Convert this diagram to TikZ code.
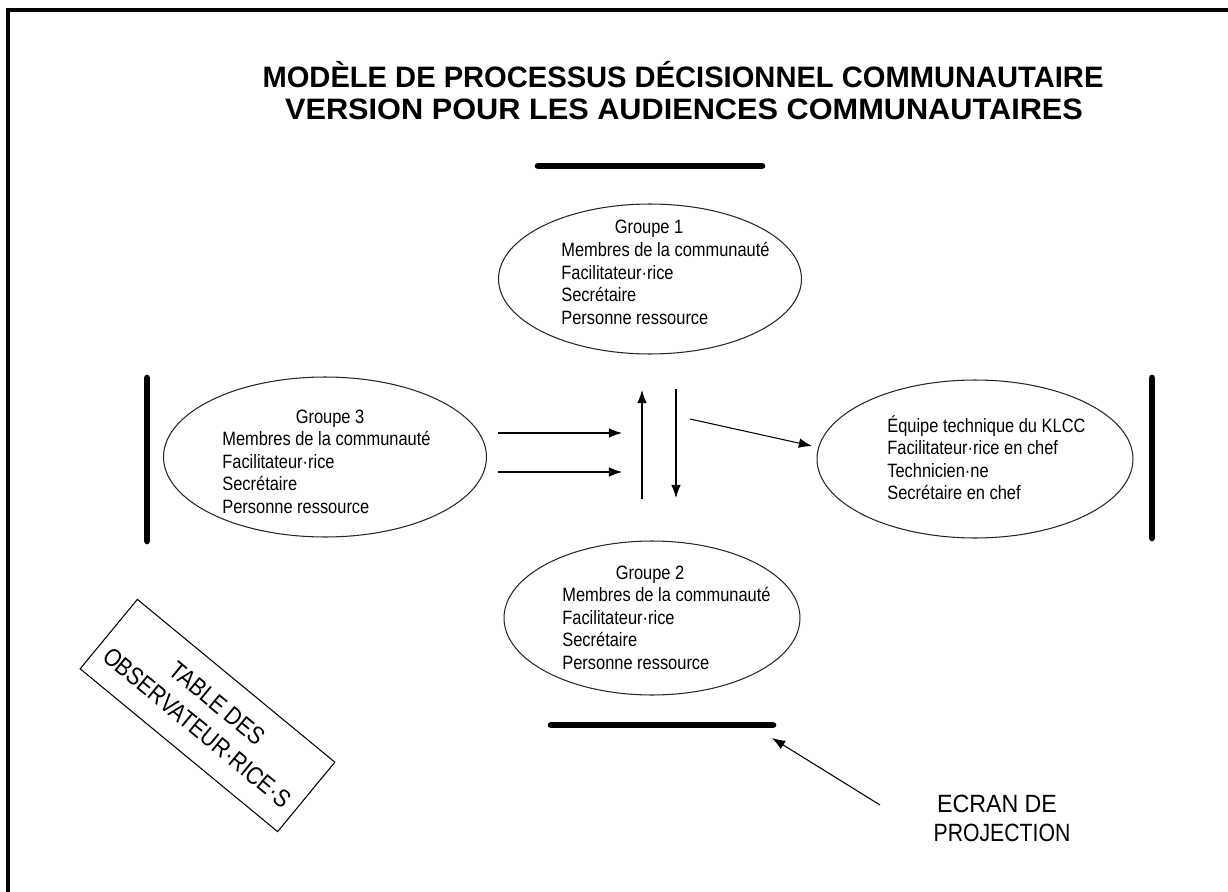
\documentclass[tikz,border=0pt]{standalone}
\usepackage{fontspec}
\setmainfont{Liberation Sans}
\newfontfamily\narrowfont{Liberation Sans}[FakeStretch=0.85]
\usetikzlibrary{arrows.meta}
\usetikzlibrary{shapes.geometric}

\begin{document}
\begin{tikzpicture}[x=0.02cm, y=-0.02cm, >={Latex[length=7.5pt, width=5.5pt]},
    ovale/.style={draw=black!85, ellipse, line width=0.6pt, inner sep=0pt},
    ligne/.style={font=\narrowfont\fontsize{11}{12.75}\selectfont, inner sep=0pt},
    titre/.style={font=\bfseries\fontsize{16.8}{18}\selectfont, inner sep=0pt, anchor=base},
    grand/.style={font=\narrowfont\fontsize{14.2}{18}\selectfont, inner sep=0pt},
    barre/.style={line width=3.8pt, line cap=round},
    fleche/.style={->, line width=0.6pt}]
        \useasboundingbox (0,0) rectangle (1228,892);
        % Frame (left and top edges)
        \draw[line width=2.8pt] (8,892) -- (8,10) -- (1228,10);

        % Title
        \node[titre] (titre1) at (683,88) {\resizebox{16.82cm}{\height}{MODÈLE DE PROCESSUS DÉCISIONNEL COMMUNAUTAIRE}};
        \node[titre] (titre2) at (684,120) {\resizebox{15.96cm}{\height}{VERSION POUR LES AUDIENCES COMMUNAUTAIRES}};

        % Walls of the room
        \coordinate (haut-g) at (538,166);
        \coordinate (haut-d) at (762,166);
        \coordinate (bas-g) at (551,725);
        \coordinate (bas-d) at (773,725);
        \coordinate (gauche-h) at (147,378);
        \coordinate (gauche-b) at (147,541);
        \coordinate (droite-h) at (1152,378);
        \coordinate (droite-b) at (1152,538);
        \draw[barre] (haut-g) -- (haut-d);
        \draw[barre] (bas-g) -- (bas-d);
        \draw[barre] (gauche-h) -- (gauche-b);
        \draw[barre] (droite-h) -- (droite-b);

        % Group 1
        \node[ovale, minimum width=6.06cm, minimum height=3.0cm] (g1) at (650,279) {};
        \node[ligne, anchor=base] (g1-titre) at (649,234) {Groupe 1};
        \foreach \txt [count=\i] in {Membres de la communauté, Facilitateur·rice, Secrétaire, Personne ressource}
            \node[ligne, anchor=base west] (g1-\i) at (561,{234+22.5*\i}) {\txt};

        % Group 3
        \node[ovale, minimum width=6.46cm, minimum height=3.2cm] (g3) at (325,457) {};
        \node[ligne, anchor=base] (g3-titre) at (330,423) {Groupe 3};
        \foreach \txt [count=\i] in {Membres de la communauté, Facilitateur·rice, Secrétaire, Personne ressource}
            \node[ligne, anchor=base west] (g3-\i) at (222,{423+22.5*\i}) {\txt};

        % Technical team
        \node[ovale, minimum width=6.32cm, minimum height=3.16cm] (klcc) at (975,459) {};
        \foreach \txt [count=\i] in {Équipe technique du KLCC, Facilitateur·rice en chef, Technicien·ne, Secrétaire en chef}
            \node[ligne, anchor=base west] (klcc-\i) at (887,{409.5+22.5*\i}) {\txt};

        % Group 2
        \node[ovale, minimum width=5.92cm, minimum height=3.08cm] (g2) at (652,618) {};
        \node[ligne, anchor=base] (g2-titre) at (650,579) {Groupe 2};
        \foreach \txt [count=\i] in {Membres de la communauté, Facilitateur·rice, Secrétaire, Personne ressource}
            \node[ligne, anchor=base west] (g2-\i) at (562,{579+22.5*\i}) {\txt};

        % Arrows in the middle
        \coordinate (h1-a) at (498,433);
        \coordinate (h1-b) at (622,433);
        \coordinate (h2-a) at (498,472);
        \coordinate (h2-b) at (622,472);
        \coordinate (up-a) at (642,499);
        \coordinate (up-b) at (642,390);
        \coordinate (down-a) at (676,389);
        \coordinate (down-b) at (676,498);
        \coordinate (diag-a) at (690,419);
        \coordinate (diag-b) at (812,446);
        \draw[fleche] (h1-a) -- (h1-b);
        \draw[fleche] (h2-a) -- (h2-b);
        \draw[fleche] (up-a) -- (up-b);
        \draw[fleche] (down-a) -- (down-b);
        \draw[fleche] (diag-a) -- (diag-b);

        % Observers' table
        \node[draw, line width=0.6pt, rotate=-39.5, minimum width=5.12cm, minimum height=1.8cm, align=center, grand] (table) at (207.5,715.5) {TABLE DES\\OBSERVATEUR·RICE·S};

        % Projection screen label
        \node[grand, anchor=base] (ecran1) at (997,812) {\resizebox{2.4cm}{\height}{ECRAN DE}};
        \node[grand, anchor=base] (ecran2) at (1002,841) {PROJECTION};
        \coordinate (proj-a) at (880,805);
        \coordinate (proj-b) at (772,738);
        \draw[fleche] (proj-a) -- (proj-b);
\end{tikzpicture}
\end{document}
